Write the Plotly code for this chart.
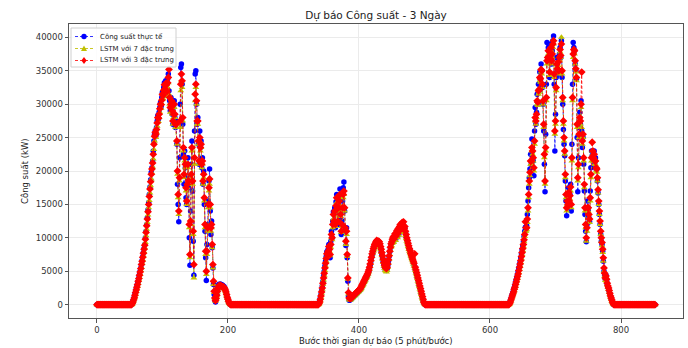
import plotly.graph_objects as go

# ---------------- data (kW) ----------------
night_1 = [0, 0, 0, 0, 0, 0, 0, 0, 0, 0,
           0, 0, 0, 0, 0, 0, 0, 0, 0, 0,
           0, 0, 0, 0, 0, 0, 0, 0, 0, 0,
           0, 0, 0, 0, 0, 0, 0, 0, 0, 0,
           0, 0, 0, 0, 0, 0, 0, 0, 0, 0,
           0, 0, 0]
night_2 = [0, 0, 0, 0, 0, 0, 0, 0, 0, 0,
           0, 0, 0, 0, 0, 0, 0, 0, 0, 0,
           0, 0, 0, 0, 0, 0, 0, 0, 0, 0,
           0, 0, 0, 0, 0, 0, 0, 0, 0, 0,
           0, 0, 0, 0, 0, 0, 0, 0, 0, 0,
           0, 0, 0, 0, 0, 0, 0, 0, 0, 0,
           0, 0, 0, 0, 0, 0, 0, 0, 0, 0,
           0, 0, 0, 0, 0, 0, 0, 0, 0, 0,
           0, 0, 0, 0, 0, 0, 0, 0, 0, 0,
           0, 0, 0, 0, 0, 0, 0, 0, 0, 0,
           0, 0, 0, 0, 0, 0, 0, 0, 0, 0,
           0, 0, 0, 0, 0, 0, 0, 0, 0, 0,
           0, 0, 0, 0, 0, 0, 0, 0, 0, 0,
           0, 0, 0, 0]
night_3 = [0, 0, 0, 0, 0, 0, 0, 0, 0, 0,
           0, 0, 0, 0, 0, 0, 0, 0, 0, 0,
           0, 0, 0, 0, 0, 0, 0, 0, 0, 0,
           0, 0, 0, 0, 0, 0, 0, 0, 0, 0,
           0, 0, 0, 0, 0, 0, 0, 0, 0, 0,
           0, 0, 0, 0, 0, 0, 0, 0, 0, 0,
           0, 0, 0, 0, 0, 0, 0, 0, 0, 0,
           0, 0, 0, 0, 0, 0, 0, 0, 0, 0,
           0, 0, 0, 0, 0, 0, 0, 0, 0, 0,
           0, 0, 0, 0, 0, 0, 0, 0, 0, 0,
           0, 0, 0, 0, 0, 0, 0, 0, 0, 0,
           0, 0, 0, 0, 0, 0, 0, 0, 0, 0,
           0, 0, 0, 0, 0, 0, 0]
night_4 = [0, 0, 0, 0, 0, 0, 0, 0, 0, 0,
           0, 0, 0, 0, 0, 0, 0, 0, 0, 0,
           0, 0, 0, 0, 0, 0, 0, 0, 0, 0,
           0, 0, 0, 0, 0, 0, 0, 0, 0, 0,
           0, 0, 0, 0, 0, 0, 0, 0, 0, 0,
           0, 0, 0, 0, 0, 0, 0, 0, 0, 0,
           0, 0, 0]

# Day 1 (steps 53..203)
day1_actual = [100, 300, 500, 800, 1100, 1500, 1900, 2300, 2700, 3100,
               3500, 4000, 4500, 5000, 5500, 6000, 6600, 7200, 7800, 8400,
               9000, 10000, 11000, 12000, 13000, 14200, 15300, 16500, 17600, 18700,
               19800, 20500, 21500, 23000, 24500, 25500, 26000, 25300, 26500, 27500,
               28300, 27800, 28800, 29500, 30200, 29700, 31000, 31800, 31200, 32500,
               33200, 32000, 33500, 32800, 31500, 33800, 34500, 32000, 30500, 29000,
               31000, 30000, 28500, 27000, 29500, 30500, 28000, 26500, 27500, 24000,
               18000, 15000, 12400, 22000, 30000, 35500, 36000, 33000, 27000, 22500,
               18000, 23000, 20500, 16000, 15000, 19000, 22000, 17500, 10000, 5900,
               14000, 21000, 24500, 17000, 9500, 4400, 26000, 34500, 35000, 30000,
               27000, 28000, 24000, 21000, 26000, 23500, 24500, 20500, 22000, 18000,
               20000, 15000, 11000, 7000, 3600, 9000, 12000, 15500, 18500, 20300,
               14000, 10500, 12500, 8500, 5500, 3000, 1500, 700, 400, 900,
               1500, 2200, 2700, 3000, 2900, 3100, 2800, 3000, 2700, 2900,
               2600, 2700, 2500, 2200, 1900, 1500, 1100, 700, 400, 200, 100]
day1_lstm7 = [0, 100, 300, 600, 900, 1200, 1600, 2000, 2400, 2800,
              3200, 3700, 4100, 4600, 5100, 5600, 6200, 6700, 7300, 7900,
              8500, 9300, 10300, 11300, 12300, 13400, 14500, 15600, 16700, 17800,
              18800, 19700, 20600, 21800, 23200, 24500, 25200, 25000, 25800, 26700,
              27500, 27400, 28000, 28800, 29400, 29400, 30100, 30900, 30800, 31500,
              32300, 31800, 32500, 32400, 31200, 32500, 33200, 31500, 30000, 28800,
              29500, 29800, 28500, 27000, 28000, 29500, 28000, 26500, 26500, 24000,
              19500, 16000, 13500, 18500, 26500, 32000, 33500, 32500, 27500, 23000,
              19000, 21500, 20500, 17000, 15000, 17500, 20500, 18000, 11500, 7000,
              12000, 19000, 23000, 18000, 10500, 4000, 21000, 30500, 32500, 30000,
              27000, 27000, 24000, 21000, 24500, 23000, 23500, 20500, 21000, 18000,
              19000, 15500, 11500, 7500, 4500, 7500, 11000, 14500, 17000, 18000,
              14500, 11000, 11500, 8500, 5500, 3000, 1800, 900, 500, 800,
              1300, 1900, 2400, 2700, 2700, 2800, 2700, 2700, 2600, 2600,
              2500, 2500, 2300, 2100, 1800, 1400, 1000, 700, 400, 200, 100]
day1_lstm3 = [0, 200, 400, 700, 1000, 1400, 1800, 2200, 2600, 3000,
              3500, 3900, 4400, 4900, 5400, 6000, 6500, 7100, 7700, 8300,
              8900, 9800, 10800, 11800, 12800, 13900, 15000, 16200, 17300, 18400,
              19500, 20300, 21200, 22500, 24000, 25200, 25800, 25500, 26200, 27200,
              28000, 27900, 28500, 29300, 30000, 29900, 30600, 31500, 31300, 32100,
              32900, 32300, 33100, 32900, 31900, 33200, 34000, 35200, 31000, 29500,
              30000, 30500, 29000, 27500, 28500, 30000, 28500, 27000, 27000, 24500,
              20000, 16500, 14000, 19000, 27500, 33000, 34500, 33500, 28000, 23500,
              19500, 22000, 21000, 17500, 15500, 18000, 21000, 18500, 12000, 7500,
              12500, 19500, 23500, 18500, 11000, 6000, 22000, 31500, 33000, 30500,
              27500, 27500, 24500, 21500, 25000, 23500, 24000, 21000, 21500, 18500,
              19500, 16000, 12000, 8000, 5000, 8000, 11500, 15000, 17500, 18800,
              15000, 11500, 12000, 9000, 6000, 3500, 2000, 1000, 600, 900,
              1400, 2000, 2500, 2800, 2800, 2900, 2800, 2800, 2700, 2700,
              2600, 2600, 2400, 2200, 1900, 1500, 1100, 800, 500, 300, 100]

# Day 2 (steps 338..500)
day2_actual = [100, 300, 600, 1000, 1500, 2100, 2800, 3500, 4300, 5000,
               5800, 6500, 7200, 7900, 7400, 8300, 9000, 8200, 7000, 9500,
               11000, 10000, 12500, 13900, 12000, 14500, 11500, 15400, 16500, 14000,
               12000, 15000, 16000, 17300, 13000, 10500, 12500, 15500, 17500, 18350,
               14000, 11000, 8850, 11500, 7000, 3500, 1200, 650, 700, 750,
               800, 900, 1000, 1100, 1200, 1300, 1400, 1500, 1600, 1700,
               1800, 1900, 2000, 2100, 2200, 2400, 2600, 2800, 3000, 3200,
               3400, 3600, 3800, 4000, 4200, 4400, 4700, 5000, 5400, 5900,
               6400, 6900, 7400, 7800, 8200, 8500, 8800, 9000, 9200, 9400,
               9300, 9100, 9400, 9200, 8900, 8500, 8000, 7500, 7000, 6500,
               6000, 5600, 5300, 5200, 5100, 5400, 5900, 6500, 7200, 7900,
               8500, 9000, 9200, 9600, 9900, 9500, 10100, 10400, 9800, 10600,
               10900, 10200, 11200, 10600, 11500, 11800, 11000, 11600, 12000, 11300,
               11800, 11000, 11500, 10800, 10200, 9800, 9400, 9000, 8600, 8300,
               8000, 7600, 7200, 6900, 6600, 6300, 6000, 5700, 5300, 4900,
               4500, 4100, 3700, 3300, 2900, 2500, 2100, 1700, 1300, 900,
               600, 300, 100]
day2_lstm7 = [0, 100, 300, 600, 1100, 1700, 2300, 3000, 3700, 4400,
              5100, 5800, 6500, 7200, 7200, 7700, 8300, 8000, 7300, 8600,
              10000, 9700, 11500, 12800, 12000, 13400, 11700, 14200, 15300, 14000,
              12200, 14000, 15000, 16000, 13200, 10800, 11700, 14000, 16000, 16500,
              14000, 11000, 9000, 10500, 7200, 3800, 1600, 800, 700, 700,
              800, 900, 1000, 1100, 1200, 1300, 1400, 1500, 1600, 1700,
              1800, 1900, 2000, 2100, 2200, 2300, 2500, 2700, 2900, 3100,
              3300, 3500, 3700, 3900, 4100, 4300, 4600, 4900, 5300, 5700,
              6200, 6700, 7200, 7600, 8000, 8300, 8600, 8800, 9000, 9100,
              9000, 8800, 9000, 8900, 8600, 8200, 7800, 7300, 6800, 6300,
              5800, 5400, 5100, 5000, 4900, 5100, 5600, 6200, 6800, 7500,
              8100, 8600, 8800, 9200, 9500, 9300, 9700, 10000, 9600, 10200,
              10500, 10000, 10800, 10400, 11000, 11300, 10800, 11200, 11500, 11000,
              11400, 10800, 11000, 10400, 9900, 9500, 9100, 8700, 8300, 8000,
              7700, 7300, 7000, 6700, 6400, 6100, 5800, 5500, 5100, 4700,
              4300, 3900, 3500, 3100, 2700, 2300, 1900, 1500, 1100, 800,
              500, 300, 100]
day2_lstm3 = [0, 200, 400, 800, 1300, 1900, 2500, 3200, 4000, 4700,
              5500, 6200, 6900, 7600, 7500, 8000, 8700, 8300, 7500, 9000,
              10500, 10000, 12000, 13500, 12500, 14000, 12000, 14800, 16000, 14500,
              12500, 14500, 15500, 16500, 13500, 11000, 12000, 14500, 16500, 17000,
              14500, 11500, 9500, 11000, 7500, 4000, 1800, 1000, 900, 900,
              1000, 1100, 1200, 1300, 1400, 1500, 1600, 1700, 1800, 1900,
              2000, 2100, 2200, 2300, 2400, 2600, 2800, 3000, 3200, 3400,
              3600, 3800, 4000, 4200, 4400, 4600, 4900, 5200, 5600, 6100,
              6600, 7100, 7600, 8000, 8400, 8700, 9000, 9200, 9400, 9600,
              9500, 9300, 9500, 9400, 9100, 8700, 8300, 7800, 7300, 6800,
              6300, 5900, 5600, 5500, 5400, 5600, 6100, 6700, 7300, 8000,
              8600, 9100, 9400, 9800, 10100, 9800, 10300, 10600, 10200, 10800,
              11100, 10600, 11400, 11000, 11700, 12000, 11400, 11900, 12300, 11700,
              12400, 11400, 11700, 11000, 10500, 10000, 9600, 9200, 8800, 8400,
              8100, 7700, 7400, 7100, 6800, 6500, 6200, 7600, 5600, 5200,
              4800, 4400, 4000, 3600, 3200, 2800, 2400, 2000, 1600, 1200,
              800, 400, 200]

# Day 3 (steps 628..789)
day3_actual = [0, 100, 300, 600, 900, 1200, 1500, 1800, 2200, 2500,
               2900, 3300, 3700, 4100, 4500, 5000, 5500, 6000, 6400, 7000,
               7600, 8200, 8800, 9400, 10200, 11000, 11600, 11200, 11800, 13500,
               15500, 17500, 19000, 20300, 22500, 21000, 24800, 23000, 21500, 19300,
               26000, 29500, 27000, 28800, 31500, 30000, 33000, 32000, 34800, 33500,
               36000, 35000, 32500, 30000, 26000, 21000, 16900, 25500, 33000, 39250,
               37000, 38500, 36500, 34000, 37500, 39000, 36000, 38000, 39500, 40200,
               33000, 23000, 28500, 34000, 37000, 35000, 36700, 34500, 37500, 38500,
               37000, 39500, 34000, 30000, 26200, 24000, 22300, 18500, 15500, 13300,
               16000, 14500, 17500, 15000, 16500, 18000, 14000, 24000, 33000, 39250,
               38500, 38000, 36000, 35000, 33800, 25000, 16900, 22000, 26500, 28800,
               27000, 30500, 26000, 23500, 25000, 21000, 17000, 13500, 11000, 9400,
               12000, 15500, 14000, 13000, 12400, 17000, 20500, 23000, 22300, 22300,
               21500, 23000, 21000, 22000, 20300, 20300, 18500, 16700, 15000, 13500,
               12000, 10500, 9500, 9000, 8000, 6500, 5000, 4400, 3800, 4400,
               3500, 3000, 2600, 2400, 2000, 1600, 1200, 900, 600, 300,
               100, 0]
day3_lstm7 = [0, 0, 100, 300, 600, 900, 1200, 1500, 1800, 2100,
              2400, 2800, 3200, 3600, 4000, 4400, 4800, 5300, 5800, 6300,
              6900, 7500, 8100, 8700, 9400, 10200, 11000, 11000, 11200, 12300,
              14000, 16000, 18000, 19300, 21000, 21000, 23000, 22500, 21500, 20000,
              24000, 27500, 27000, 28000, 30000, 29800, 31500, 31800, 33500, 33300,
              34800, 34500, 32500, 30000, 26500, 22000, 18000, 23000, 30500, 36000,
              36500, 37500, 36300, 34300, 36300, 38000, 36000, 37000, 38500, 39000,
              34000, 25500, 27000, 32000, 35500, 34800, 35800, 34500, 36500, 37800,
              37000, 40000, 34500, 30500, 27000, 24500, 22500, 19000, 16000, 14000,
              15000, 14500, 16300, 15000, 15800, 17000, 14500, 21500, 30500, 37000,
              37800, 37500, 36000, 34800, 33500, 26500, 18500, 20500, 25000, 27500,
              27000, 29500, 26500, 24000, 25000, 21500, 17500, 14000, 11500, 9500,
              11000, 14000, 14000, 13000, 12300, 15500, 19000, 21500, 23000, 22500,
              21500, 22000, 21000, 21000, 20000, 19800, 18500, 16700, 15000, 13500,
              12000, 10500, 9500, 8800, 7800, 6500, 5000, 4300, 3600, 4000,
              3500, 3000, 2600, 2300, 1900, 1500, 1100, 800, 500, 300,
              100, 0]
day3_lstm3 = [0, 0, 200, 400, 700, 1000, 1300, 1600, 1900, 2300,
              2600, 3000, 3400, 3800, 4200, 4600, 5100, 5600, 6100, 6600,
              7200, 7800, 8400, 9000, 9700, 10500, 12400, 11500, 11500, 12800,
              14500, 16500, 18500, 19800, 21500, 21500, 23500, 23000, 22000, 20500,
              24500, 28000, 27500, 28500, 30500, 30300, 32000, 32200, 34000, 33800,
              35200, 35000, 33000, 30500, 27000, 22500, 18500, 23500, 31000, 36500,
              37000, 38000, 36800, 34800, 36800, 38500, 36500, 37500, 39000, 39500,
              34500, 26000, 27500, 32500, 36000, 35300, 36300, 35000, 37000, 38200,
              37300, 39000, 35000, 31000, 27500, 25000, 23000, 19500, 16500, 14500,
              15500, 15000, 16800, 15500, 16300, 17600, 15000, 22000, 31000, 37500,
              38200, 38000, 36500, 35300, 34000, 27000, 19000, 21000, 25500, 28000,
              27500, 30000, 34800, 24500, 25500, 22000, 18000, 14500, 12000, 10000,
              11500, 14500, 14500, 13500, 12800, 16000, 19500, 22000, 24300, 23000,
              22000, 22500, 21500, 21500, 20500, 20300, 19000, 17200, 15500, 14000,
              12500, 11000, 10000, 9300, 8300, 7000, 5500, 4700, 4000, 4300,
              3800, 3200, 2800, 2500, 2100, 1700, 1300, 1000, 700, 400,
              200, 0]

actual = night_1 + day1_actual + night_2 + day2_actual + night_3 + day3_actual + night_4
lstm7 = night_1 + day1_lstm7 + night_2 + day2_lstm7 + night_3 + day3_lstm7 + night_4
lstm3 = night_1 + day1_lstm3 + night_2 + day2_lstm3 + night_3 + day3_lstm3 + night_4
steps = list(range(len(actual)))

series_names = ["Công suất thực tế", "LSTM với 7 đặc trưng", "LSTM với 3 đặc trưng"]
x_ticks = [0, 200, 400, 600, 800]
y_ticks = [0, 5000, 10000, 15000, 20000, 25000, 30000, 35000, 40000]

# ---------------- styling ----------------
FONT = "DejaVu Sans"
W, H = 688, 348
ML, MR, MT, MB = 69, 5, 24, 30
PW, PH = W - ML - MR, H - MT - MB

colors = ["#0000ff", "#bfbf00", "#ff0000"]
line_colors = ["rgba(0,0,255,0.8)", "rgba(191,191,0,0.85)", "rgba(255,0,0,0.8)"]
symbols = ["circle", "triangle-up", "diamond"]
sizes = [5.5, 6, 6]

fig = go.Figure()
for name, ys, c, lc, sym, sz in zip(series_names, [actual, lstm7, lstm3],
                                    colors, line_colors, symbols, sizes):
    fig.add_trace(go.Scatter(
        x=steps, y=ys, name=name, mode="lines+markers", showlegend=False,
        line=dict(color=lc, width=1, dash="3px,2px"),
        marker=dict(symbol=sym, size=sz, color=c, line=dict(width=0))))

axis_common = dict(
    showgrid=True, gridcolor="#ebebeb", gridwidth=1,
    showline=True, linecolor="#555555", linewidth=1, mirror=True,
    ticks="outside", ticklen=3.5, tickcolor="#555555",
    tickfont=dict(family=FONT, size=8.5, color="#333333"),
    zeroline=False, automargin=False,
)
fig.update_xaxes(range=[-42.6, 894.6], tickvals=x_ticks, tickformat="d", **axis_common)
fig.update_yaxes(range=[-2000, 42000], tickvals=y_ticks, tickformat="d", **axis_common)


# ---- compact legend (matplotlib-like), built from shapes + annotations ----
def px_x(px):
    return (px - ML) / PW


def px_y(py):
    return (H - MB - py) / PH


shapes = [dict(type="rect", xref="paper", yref="paper",
               x0=px_x(71), x1=px_x(176), y0=px_y(67), y1=px_y(28),
               line=dict(color="#d0d0d0", width=1), fillcolor="rgba(255,255,255,0.85)",
               layer="above")]
annotations = []
rows_py = [36.5, 48.5, 60.5]
for i, py in enumerate(rows_py):
    shapes.append(dict(type="line", xref="paper", yref="paper",
                       x0=px_x(75), x1=px_x(93), y0=px_y(py), y1=px_y(py),
                       line=dict(color=line_colors[i], width=1, dash="3px,2px"),
                       layer="above"))
    cx, cy = 84, py
    if symbols[i] == "circle":
        shapes.append(dict(type="circle", xref="paper", yref="paper",
                           x0=px_x(cx - 2.7), x1=px_x(cx + 2.7),
                           y0=px_y(cy + 2.7), y1=px_y(cy - 2.7),
                           fillcolor=colors[i], line=dict(width=0), layer="above"))
    elif symbols[i] == "triangle-up":
        path = "M {},{} L {},{} L {},{} Z".format(
            px_x(cx - 3), px_y(cy + 2.5), px_x(cx + 3), px_y(cy + 2.5),
            px_x(cx), px_y(cy - 3))
        shapes.append(dict(type="path", xref="paper", yref="paper", path=path,
                           fillcolor=colors[i], line=dict(width=0), layer="above"))
    else:
        path = "M {},{} L {},{} L {},{} L {},{} Z".format(
            px_x(cx - 2.6), px_y(cy), px_x(cx), px_y(cy - 3.4),
            px_x(cx + 2.6), px_y(cy), px_x(cx), px_y(cy + 3.4))
        shapes.append(dict(type="path", xref="paper", yref="paper", path=path,
                           fillcolor=colors[i], line=dict(width=0), layer="above"))
    annotations.append(dict(text=series_names[i], xref="paper", yref="paper",
                            x=px_x(98), y=px_y(py), xanchor="left", yanchor="middle",
                            showarrow=False,
                            font=dict(family=FONT, size=7, color="#222222")))

annotations += [
    dict(text="Bước thời gian dự báo (5 phút/bước)", xref="paper", yref="paper",
         x=0.5, y=px_y(341), xanchor="center", yanchor="middle", showarrow=False,
         font=dict(family=FONT, size=8.5, color="#222222")),
    dict(text="Công suất (kW)", xref="paper", yref="paper",
         x=px_x(25), y=0.5, xanchor="center", yanchor="middle", showarrow=False,
         textangle=-90, font=dict(family=FONT, size=8.5, color="#222222")),
]

fig.update_layout(
    width=W, height=H,
    margin=dict(l=ML, r=MR, t=MT, b=MB),
    paper_bgcolor="white", plot_bgcolor="white",
    font=dict(family=FONT, color="#222222"),
    title=dict(text="Dự báo Công suất - 3 Ngày", x=0.5, xref="paper", xanchor="center",
               y=1 - 15 / H, yref="container", yanchor="middle",
               font=dict(family=FONT, size=10.5, color="#222222")),
    showlegend=False,
    hovermode=False,
    shapes=shapes,
    annotations=annotations,
)

# remove the browser's default 8px page margin so the figure fills the window exactly
fig.write_html("out.html",
               config={"displayModeBar": False, "staticPlot": True},
               post_script="document.body.style.margin='0px';"
                           "document.body.style.overflow='hidden';")
